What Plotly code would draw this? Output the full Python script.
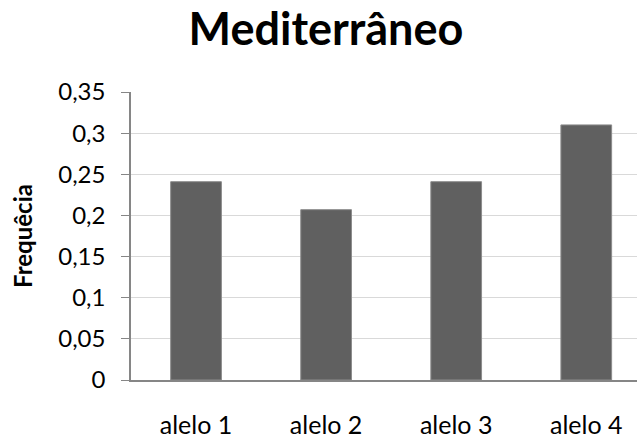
import plotly.graph_objects as go

categories = ["alelo 1", "alelo 2", "alelo 3", "alelo 4"]
frequencies = [0.241, 0.207, 0.241, 0.31]
y_tick_values = [0, 0.05, 0.1, 0.15, 0.2, 0.25, 0.3, 0.35]
y_tick_labels = ["0", "0,05", "0,1", "0,15", "0,2", "0,25", "0,3", "0,35"]

FONT = "Lato"

fig = go.Figure(
    go.Bar(
        x=categories,
        y=frequencies,
        marker=dict(color="#606060", line=dict(color="#8c8c8c", width=1)),
        width=0.39,
    )
)

fig.update_layout(
    width=637,
    height=439,
    margin=dict(l=131, r=0, t=92, b=55),
    paper_bgcolor="white",
    plot_bgcolor="white",
    showlegend=False,
    separators=",.",
    title=dict(
        text="<b>Mediterrâneo</b>",
        x=326 / 637,
        xanchor="center",
        y=1 - 29 / 439,
        yanchor="middle",
        font=dict(family=FONT, size=45, color="black"),
    ),
    font=dict(family=FONT, color="black"),
)

fig.update_xaxes(
    range=[-0.5, 3.39],
    showgrid=False,
    showline=True,
    linecolor="#868686",
    linewidth=1.5,
    ticks="",
    tickfont=dict(family=FONT, size=25, color="black"),
    ticklabelstandoff=22,
)

fig.update_yaxes(
    range=[0, 0.35],
    tickvals=y_tick_values,
    ticktext=y_tick_labels,
    showgrid=True,
    gridcolor="#d9d9d9",
    gridwidth=1,
    showline=True,
    linecolor="#868686",
    linewidth=1.5,
    ticks="outside",
    ticklen=8,
    tickcolor="#868686",
    tickwidth=1,
    tickfont=dict(family=FONT, size=24, color="black"),
    ticklabelstandoff=11,
    zeroline=False,
    title=dict(
        text="<b>Frequêcia</b>",
        font=dict(family=FONT, size=24, color="black"),
        standoff=19,
    ),
)

fig.write_html("out.html")
